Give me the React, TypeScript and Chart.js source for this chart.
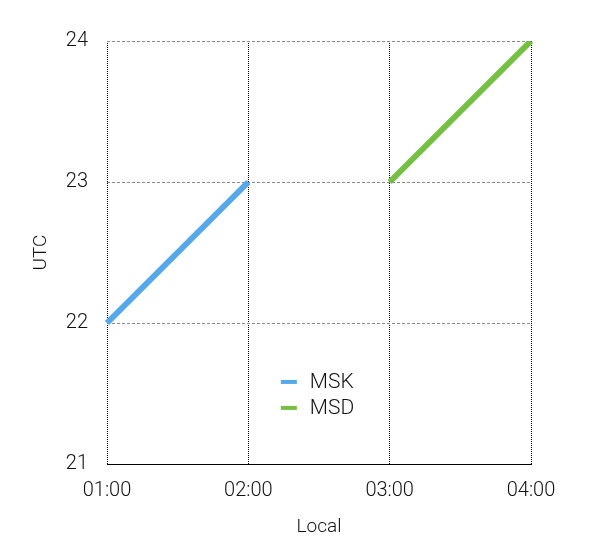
import React, { useEffect, useRef } from "react";
import { Chart, registerables } from "chart.js";

Chart.register(...registerables);

const categories = ["01:00", "02:00", "03:00", "04:00"];
const mskValues: (number | null)[] = [22, 23, null, null];
const msdValues: (number | null)[] = [null, null, 23, 24];
const yTicks = [21, 22, 23, 24];
const seriesNames = ["MSK", "MSD"];
const seriesColors = ["#55a8ec", "#74c043"];

const FONT = "Roboto, 'Liberation Sans', sans-serif";

const legendPlugin = {
  id: "innerLegend",
  afterDraw(chart: any) {
    const { ctx, chartArea } = chart;
    const x0 = chartArea.left + (chartArea.right - chartArea.left) * 0.41;
    const y0 = chartArea.top + (chartArea.bottom - chartArea.top) * 0.806;
    ctx.save();
    ctx.font = `300 21px ${FONT}`;
    ctx.textBaseline = "middle";
    ctx.textAlign = "left";
    chart.data.datasets.forEach((ds: any, i: number) => {
      const y = y0 + i * 26;
      ctx.strokeStyle = ds.borderColor;
      ctx.lineWidth = 4;
      ctx.beginPath();
      ctx.moveTo(x0, y);
      ctx.lineTo(x0 + 16, y);
      ctx.stroke();
      ctx.fillStyle = "#111";
      ctx.fillText(ds.label, x0 + 29, y + 1);
    });
    ctx.restore();
  },
};

export default function App() {
  const ref = useRef<HTMLCanvasElement>(null);
  useEffect(() => {
    if (!ref.current) return;
    const chart = new Chart(ref.current, {
      type: "line",
      data: {
        labels: categories,
        datasets: [
          {
            label: seriesNames[0],
            data: mskValues,
            borderColor: seriesColors[0],
            backgroundColor: seriesColors[0],
            borderWidth: 6,
            pointRadius: 0,
            spanGaps: false,
          },
          {
            label: seriesNames[1],
            data: msdValues,
            borderColor: seriesColors[1],
            backgroundColor: seriesColors[1],
            borderWidth: 6,
            pointRadius: 0,
            spanGaps: false,
          },
        ],
      },
      options: {
        responsive: false,
        animation: false,
        layout: { padding: { left: 0, top: 41, right: 64, bottom: 0 } },
        plugins: { legend: { display: false }, tooltip: { enabled: false } },
        scales: {
          x: {
            type: "category",
            offset: false,
            grid: {
              color: "#000",
              lineWidth: 1,
              drawTicks: false,
            },
            border: { display: true, color: "#000", width: 1, dash: [1, 1] },
            ticks: {
              padding: 15,
              color: "#111",
              font: { family: FONT, size: 20, weight: "300" },
              maxRotation: 0,
            },
            title: {
              display: true,
              text: "Local",
              color: "#111",
              font: { family: FONT, size: 19, weight: "300" },
              padding: { top: 0, bottom: 13 },
            },
            afterFit(scale: any) {
              scale.height = 88;
            },
          },
          y: {
            min: 21,
            max: 24,
            afterBuildTicks(scale: any) {
              scale.ticks = yTicks.map((v) => ({ value: v }));
            },
            grid: {
              color: "#888",
              lineWidth: 1,
              drawTicks: false,
            },
            border: { display: false, dash: [3, 2] },
            ticks: {
              padding: 19,
              color: "#111",
              font: { family: FONT, size: 20, weight: "300" },
            },
            title: {
              display: true,
              text: "UTC",
              color: "#111",
              font: { family: FONT, size: 19, weight: "300" },
              padding: { top: 30, bottom: 0 },
            },
            afterFit(scale: any) {
              scale.width = 107;
            },
          },
        },
      },
      plugins: [
        legendPlugin,
        {
          id: "axisLine",
          afterDatasetsDraw(chart: any) {
            const { ctx, chartArea } = chart;
            ctx.save();
            ctx.strokeStyle = "#000";
            ctx.lineWidth = 1;
            ctx.setLineDash([]);
            ctx.beginPath();
            ctx.moveTo(chartArea.left, Math.round(chartArea.bottom) + 0.5);
            ctx.lineTo(chartArea.right, Math.round(chartArea.bottom) + 0.5);
            ctx.stroke();
            ctx.restore();
          },
        },
      ],
    } as any);
    return () => chart.destroy();
  }, []);
  return (
    <div style={{ position: "absolute", left: 0, top: 0, width: 595, height: 552 }}>
      <canvas ref={ref} width={595} height={552} style={{ display: "block" }} />
    </div>
  );
}
